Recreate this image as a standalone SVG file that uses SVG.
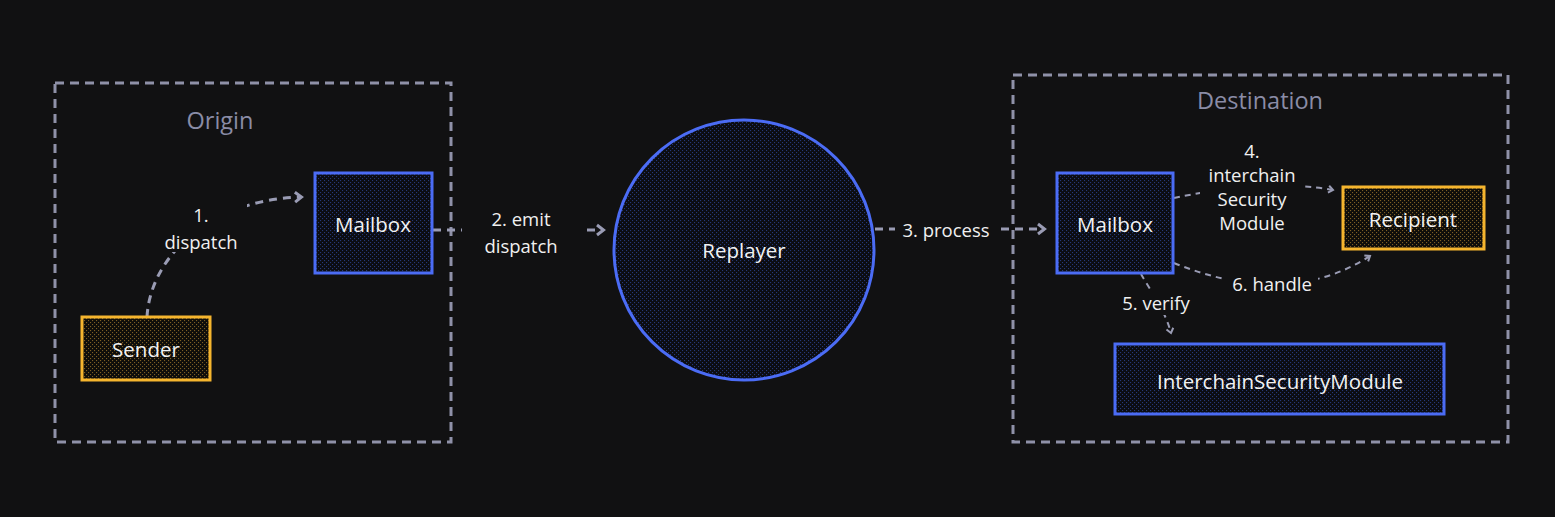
<svg xmlns="http://www.w3.org/2000/svg" width="1555" height="517" viewBox="0 0 1555 517">
<style>
.bg{fill:#111112}
.cont{fill:none;stroke:#8f91a8;stroke-width:3;stroke-dasharray:9 6}
.ctitle{font-family:"Open Sans","Noto Sans",sans-serif;font-size:23.5px;fill:#8a8ca6;text-anchor:middle;font-weight:500}
.blue{fill:url(#pBlue);stroke:#4b6cf5;stroke-width:3}
.orange{fill:url(#pOrange);stroke:#f5b52e;stroke-width:3}
.ntext{font-family:"Open Sans","Noto Sans",sans-serif;font-size:20.5px;fill:#f2f2f2;text-anchor:middle;dominant-baseline:central;font-weight:500}
.edge{fill:none;stroke:#9a9cb4;stroke-width:3;stroke-dasharray:8 6}
.edge2{fill:none;stroke:#9a9cb4;stroke-width:2;stroke-dasharray:6 5}
.lbl{font-family:"Open Sans","Noto Sans",sans-serif;font-size:18.5px;fill:#f0f0f0;text-anchor:middle;dominant-baseline:central;font-weight:500}
</style>
<defs>
<pattern id="pBlue" width="4" height="4" patternUnits="userSpaceOnUse">
<rect width="4" height="4" fill="#0b0c11"/>
<rect x="0" y="0" width="1.1" height="1.1" fill="#263877"/>
<rect x="2" y="2" width="1.1" height="1.1" fill="#263877"/>
</pattern>
<pattern id="pOrange" width="4" height="4" patternUnits="userSpaceOnUse">
<rect width="4" height="4" fill="#0e0d0a"/>
<rect x="0" y="0" width="1.1" height="1.1" fill="#7c5e24"/>
<rect x="2" y="2" width="1.1" height="1.1" fill="#7c5e24"/>
</pattern>
<marker id="arr" markerWidth="12" markerHeight="14" refX="9" refY="7" orient="auto" markerUnits="userSpaceOnUse">
<path d="M3,2 L9.5,7 L3,12" fill="none" stroke="#9a9cb4" stroke-width="3"/>
</marker>
<marker id="arrs" markerWidth="10" markerHeight="10" refX="7" refY="5" orient="auto" markerUnits="userSpaceOnUse">
<path d="M2.5,1.5 L7,5 L2.5,8.5" fill="none" stroke="#9a9cb4" stroke-width="2"/>
</marker>
</defs>
<rect class="bg" x="0" y="0" width="1555" height="517"/>

<g id="origin">
<rect class="cont" x="55" y="83" width="396" height="359"/>
<text class="ctitle" x="220" y="129">Origin</text>
</g>
<g id="destination">
<rect class="cont" x="1013" y="75" width="495" height="367"/>
<text class="ctitle" x="1260" y="109">Destination</text>
</g>

<g id="connectors">
<path class="edge" d="M147,317 C150,260 205,200 301,197" marker-end="url(#arr)"/>
<rect x="155" y="200" width="92" height="52" fill="#111112"/>
<text class="lbl" x="201" y="214">1.</text>
<text class="lbl" x="201" y="241">dispatch</text>

<path class="edge" d="M433,230 L603,230" marker-end="url(#arr)"/>
<rect x="462" y="202" width="120" height="56" fill="#111112"/>
<text class="lbl" x="521" y="218">2. emit</text>
<text class="lbl" x="521" y="245">dispatch</text>

<path class="edge" d="M875,229 L1044,229" marker-end="url(#arr)"/>
<rect x="895" y="215" width="104" height="28" fill="#111112"/>
<text class="lbl" x="946" y="229">3. process</text>

<path class="edge2" d="M1174,198 C1230,186 1290,182 1333,190" marker-end="url(#arrs)"/>
<rect x="1200" y="137" width="104" height="98" fill="#111112"/>
<text class="lbl" x="1252" y="150">4.</text>
<text class="lbl" x="1252" y="174">interchain</text>
<text class="lbl" x="1252" y="198">Security</text>
<text class="lbl" x="1252" y="222">Module</text>

<path class="edge2" d="M1141,274 C1150,290 1165,310 1171,333" marker-end="url(#arrs)"/>
<rect x="1116" y="289" width="80" height="26" fill="#111112"/>
<text class="lbl" x="1156" y="302">5. verify</text>

<path class="edge2" d="M1174,263 C1240,290 1310,295 1370,256" marker-end="url(#arrs)"/>
<rect x="1226" y="270" width="92" height="26" fill="#111112"/>
<text class="lbl" x="1272" y="283">6. handle</text>
</g>

<g id="sender">
<rect class="orange" x="82" y="317" width="128" height="63"/>
<text class="ntext" x="146" y="349">Sender</text>
</g>
<g id="origin-mailbox">
<rect class="blue" x="315" y="173" width="117" height="100"/>
<text class="ntext" x="373" y="224">Mailbox</text>
</g>
<g id="replayer">
<circle class="blue" cx="744" cy="250" r="130"/>
<text class="ntext" x="744" y="250">Replayer</text>
</g>
<g id="dest-mailbox">
<rect class="blue" x="1057" y="173" width="116" height="100"/>
<text class="ntext" x="1115" y="224">Mailbox</text>
</g>
<g id="recipient">
<rect class="orange" x="1343" y="187" width="141" height="62"/>
<text class="ntext" x="1413" y="219">Recipient</text>
</g>
<g id="ism">
<rect class="blue" x="1115" y="344" width="329" height="70"/>
<text class="ntext" x="1280" y="381">InterchainSecurityModule</text>
</g>
</svg>
